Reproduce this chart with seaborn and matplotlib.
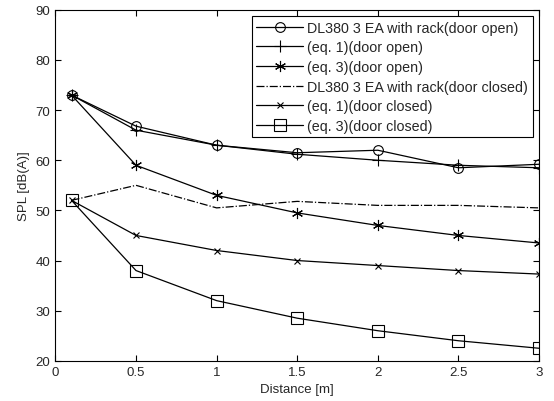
import matplotlib
matplotlib.use('Agg')
import matplotlib.pyplot as plt
import seaborn as sns
import pandas as pd

# distances and measured / predicted SPL values
distance = [0.1, 0.5, 1.0, 1.5, 2.0, 2.5, 3.0]
meas_open = [73, 66.8, 63, 61.5, 62, 58.5, 59.2]
eq1_open = [73, 66, 63, 61.2, 60, 59, 58.5]
eq3_open = [73, 59, 53, 49.5, 47, 45, 43.5]
meas_closed = [52, 55, 50.5, 51.8, 51, 51, 50.5]
eq1_closed = [52, 45, 42, 40, 39, 38, 37.3]
eq3_closed = [52, 38, 32, 28.5, 26, 24, 22.5]

labels = [
    'DL380 3 EA with rack(door open)',
    '(eq. 1)(door open)',
    '(eq. 3)(door open)',
    'DL380 3 EA with rack(door closed)',
    '(eq. 1)(door closed)',
    '(eq. 3)(door closed)',
]
series = [meas_open, eq1_open, eq3_open, meas_closed, eq1_closed, eq3_closed]
markers = ['o', '+', (6, 2, 0), None, 'x', 's']
lstyles = ['-', '-', '-', '-.', '-', '-']
msizes = [7, 9, 8, 0, 4, 8]

sns.set_style('white')
plt.rcParams['font.family'] = ['Liberation Sans', 'DejaVu Sans']

fig = plt.figure(figsize=(5.54, 4.02), dpi=100)
ax = fig.add_axes([0.1, 0.1, 0.873, 0.873])

for lab, vals, mk, ls, ms in zip(labels, series, markers, lstyles, msizes):
    df = pd.DataFrame({'Distance': distance, 'SPL': vals})
    sns.lineplot(data=df, x='Distance', y='SPL', ax=ax, color='black',
                 linestyle=ls, marker=mk, markersize=ms, markerfacecolor='none',
                 markeredgecolor='black', markeredgewidth=0.8, linewidth=0.9,
                 label=lab)

ax.set_xlim(0, 3)
ax.set_ylim(20, 90)
ax.set_xticks([0, 0.5, 1, 1.5, 2, 2.5, 3])
ax.set_xticklabels(['0', '0.5', '1', '1.5', '2', '2.5', '3'])
ax.set_yticks(range(20, 91, 10))
ax.set_xlabel('Distance [m]', fontsize=9.5)
ax.set_ylabel('SPL [dB(A)]', fontsize=9.5)
ax.tick_params(direction='in', length=4, width=0.8, labelsize=9.5,
               top=True, right=True, bottom=True, left=True, color='black')
for sp in ax.spines.values():
    sp.set_color('black')
    sp.set_linewidth(0.8)

leg = ax.legend(loc='upper right', fontsize=10.3, frameon=True, fancybox=False,
                edgecolor='black', framealpha=1, borderaxespad=0.45,
                handlelength=3.3, handletextpad=0.3, labelspacing=0.4,
                borderpad=0.3)
leg.get_frame().set_linewidth(0.8)

fig.savefig('out.png', dpi=100)
